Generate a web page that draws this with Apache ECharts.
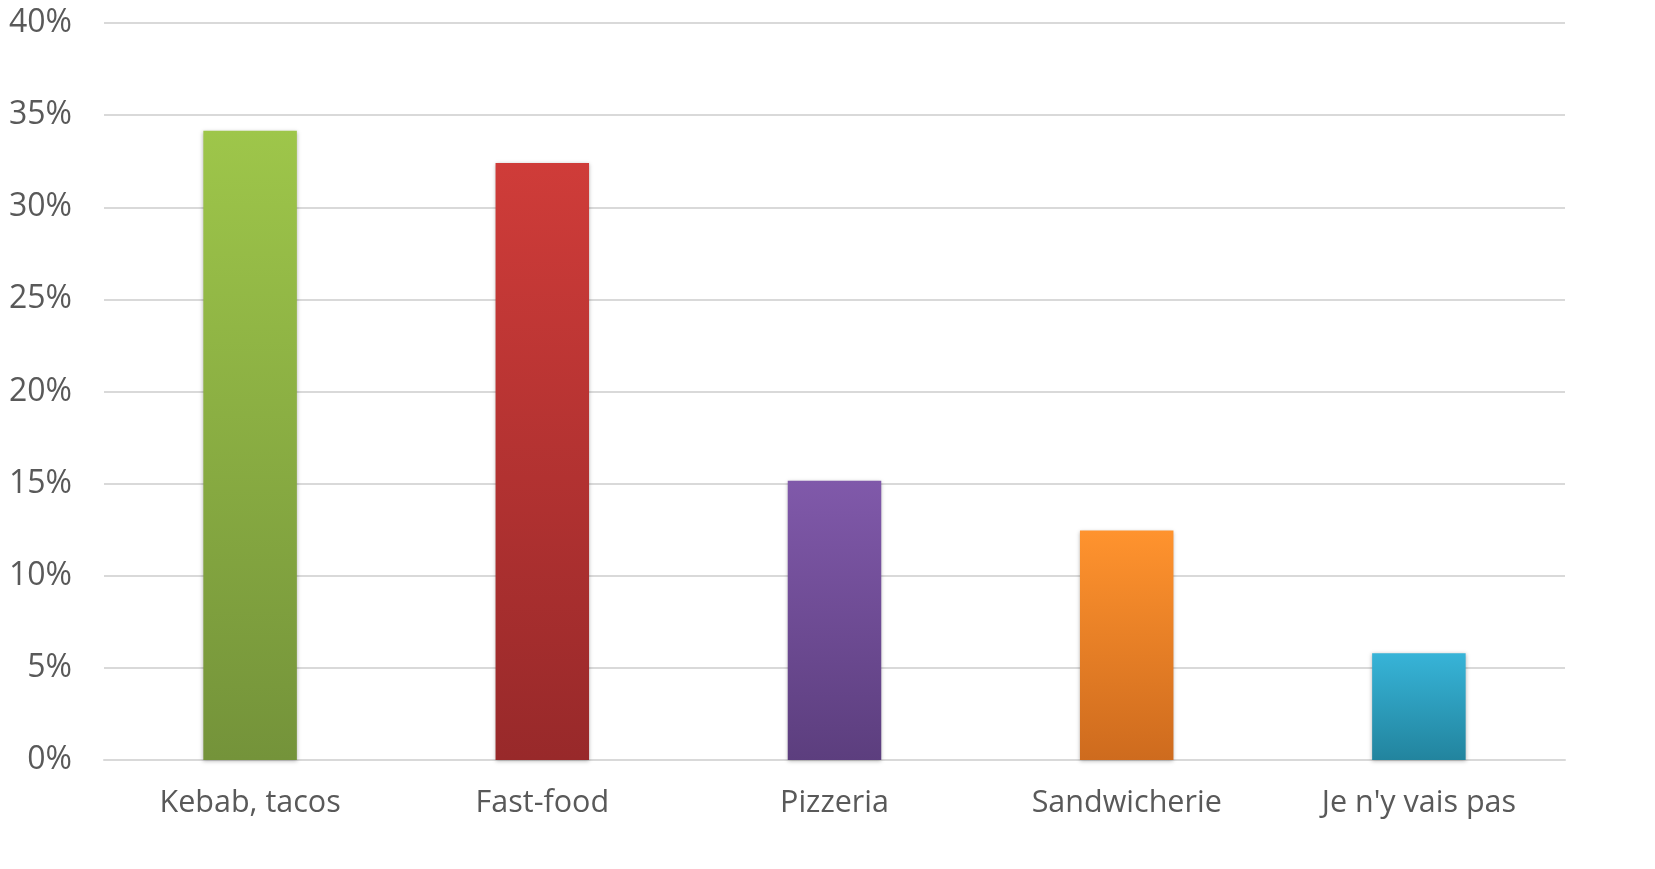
<!DOCTYPE html>
<html><head><meta charset="utf-8">
<script src="https://cdn.jsdelivr.net/npm/echarts@6/dist/echarts.min.js"></script>
<style>html,body{margin:0;padding:0;background:#fff}#c{width:1655px;height:869px}</style>
</head><body><div id="c"></div>
<script>
const categories = ["Kebab, tacos", "Fast-food", "Pizzeria", "Sandwicherie", "Je n'y vais pas"];
const values = [34.15, 32.4, 15.15, 12.45, 5.8];
const topColors = ["#9ec64a", "#cf3c39", "#8059aa", "#ff932e", "#37b4d8"];
const bottomColors = ["#74933a", "#98292a", "#5c3e7e", "#ce6b1e", "#22849e"];
const yTicks = [0, 5, 10, 15, 20, 25, 30, 35, 40];

const chart = echarts.init(document.getElementById('c'));
chart.setOption({
  animation: false,
  grid: {left: 104, right: 90, top: 23, bottom: 109, containLabel: false},
  xAxis: {
    type: 'category', data: categories,
    axisLine: {show: true, lineStyle: {color: '#d9d9d9', width: 2}},
    axisTick: {show: false},
    axisLabel: {color: '#595959', fontSize: 30.5, fontFamily: 'Open Sans', margin: 28}
  },
  yAxis: {
    type: 'value', min: yTicks[0], max: yTicks[yTicks.length-1], interval: 5,
    axisLine: {show: false}, axisTick: {show: false},
    splitLine: {lineStyle: {color: '#d9d9d9', width: 2}},
    axisLabel: {color: '#595959', fontSize: 32, fontFamily: 'Open Sans', margin: 32, formatter: v => v + '%'}
  },
  series: [{
    type: 'bar', barWidth: '32%',
    data: values.map((v, i) => ({
      value: v,
      itemStyle: {
        color: new echarts.graphic.LinearGradient(0, 0, 0, 1, [
          {offset: 0, color: topColors[i]}, {offset: 1, color: bottomColors[i]}
        ]),
        shadowBlur: 4, shadowColor: 'rgba(0,0,0,0.3)', shadowOffsetX: 0, shadowOffsetY: 1
      }
    }))
  }]
});
</script></body></html>
